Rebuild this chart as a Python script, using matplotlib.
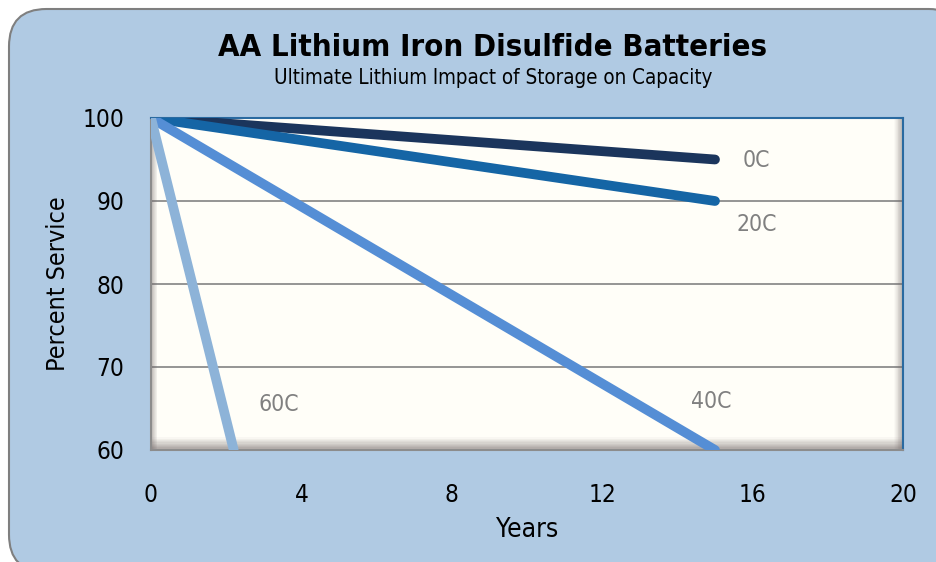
import matplotlib.pyplot as plt
from matplotlib.patches import FancyBboxPatch, Rectangle

plt.rcParams['font.family'] = ['DejaVu Sans']
plt.rcParams['font.stretch'] = 'condensed'

# datos de las curvas (años, porcentaje de servicio)
series = ["0C", "20C", "40C", "60C"]
years_0c = [0, 15]
service_0c = [100, 95]
years_20c = [0, 15]
service_20c = [100, 90]
years_40c = [0, 15]
service_40c = [100, 60]
years_60c = [0, 2.2]
service_60c = [100, 60]

label_pos = {"0C": (16.1, 94.9), "20C": (16.1, 87.2), "40C": (14.9, 65.9), "60C": (3.4, 65.5)}
colores = {"0C": "#1b355c", "20C": "#1565a5", "40C": "#558ed5", "60C": "#8db3d8"}

x_ticks = [0, 4, 8, 12, 16, 20]
y_ticks = [60, 70, 80, 90, 100]

fig = plt.figure(figsize=(9.37, 5.62), dpi=100)
fig.patch.set_facecolor("white")

# fondo azul redondeado
W, H = 937, 562
fondo = FancyBboxPatch((9 / W, -10 / H), (W + 20) / W, (H + 10 - 9) / H,
                       boxstyle="round,pad=0,rounding_size=0.04",
                       transform=fig.transFigure, facecolor="#b0cae3",
                       edgecolor="#7f7f7f", linewidth=1.5, zorder=-5,
                       mutation_aspect=W / H)
fig.patches.append(fondo)

ax = fig.add_axes([151 / W, 1 - 450 / H, (903 - 151) / W, (450 - 118) / H])
ax.set_zorder(2)
ax.set_facecolor("#fffef8")

for y in [70, 80, 90]:
    ax.axhline(y, color="#8c8c8c", lw=1.3, zorder=1)

# efecto biselado del area del grafico
n = 10
for i in range(n):
    a = 0.04 + 0.06 * i
    ax.add_patch(Rectangle((0, (n - 1 - i) * 0.0038), 1, 0.0038, transform=ax.transAxes,
                           color="#6e6464", alpha=a, lw=0, zorder=1.5))
    ax.add_patch(Rectangle((1 - (n - i) * 0.0012, 0), 0.0012, 1, transform=ax.transAxes,
                           color="#6e6464", alpha=a * 0.8, lw=0, zorder=1.5))
for i in range(6):
    ax.add_patch(Rectangle((i * 0.0013, 0), 0.0013, 1, transform=ax.transAxes,
                           color="#6e6464", alpha=0.45 - 0.07 * i, lw=0, zorder=1.5))

datos = {
    "0C": (years_0c, service_0c),
    "20C": (years_20c, service_20c),
    "40C": (years_40c, service_40c),
    "60C": (years_60c, service_60c),
}
for s in series:
    xs, ys = datos[s]
    ax.plot(xs, ys, color=colores[s], lw=7, solid_capstyle="round", zorder=3)
    lx, ly = label_pos[s]
    ax.text(lx, ly, s, color="#808080", fontsize=16.5, ha="center", va="center")

ax.set_xlim(0, 20)
ax.set_ylim(60, 100)
ax.set_xticks(x_ticks)
ax.set_yticks(y_ticks)
ax.tick_params(length=0, labelsize=17.5, pad=24, axis="x")
ax.tick_params(length=0, labelsize=17.5, pad=19, axis="y")
for s in ["left", "bottom"]:
    ax.spines[s].set_color("#8c8c8c")
    ax.spines[s].set_linewidth(1.5)
for s in ["top", "right"]:
    ax.spines[s].set_color("#2a6aa0")
    ax.spines[s].set_linewidth(1.5)

ax.set_xlabel("Years", fontsize=19, labelpad=7)
ax.set_ylabel("Percent Service", fontsize=18, labelpad=9)

fig.text(493 / W, 1 - 47 / H, "AA Lithium Iron Disulfide Batteries", ha="center", va="center",
         fontsize=22.3, fontweight="bold")
fig.text(493 / W, 1 - 78 / H, "Ultimate Lithium Impact of Storage on Capacity", ha="center",
         va="center", fontsize=14.8)

fig.savefig("out.png", dpi=100)
